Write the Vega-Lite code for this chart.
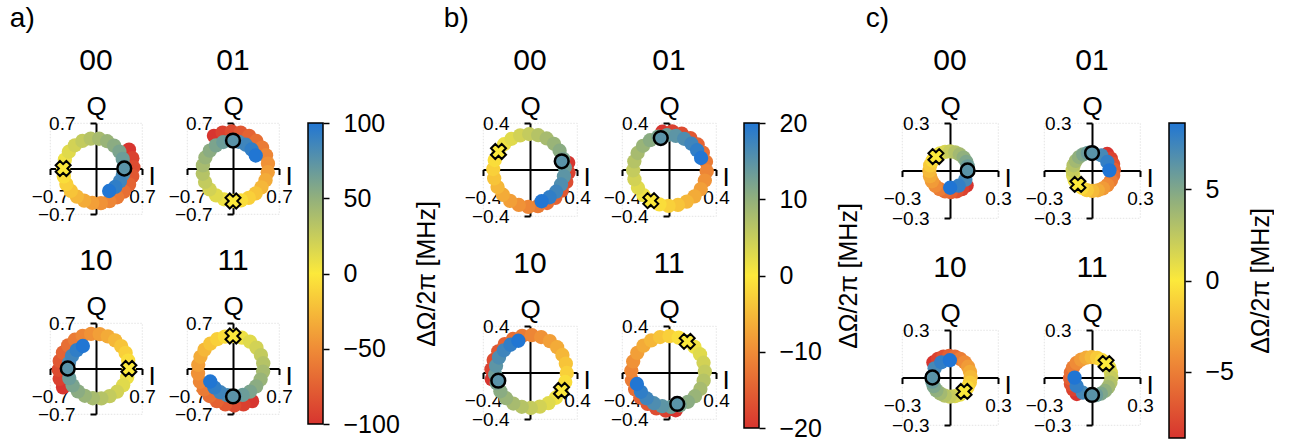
{
"$schema": "https://vega.github.io/schema/vega-lite/v6.json",
"padding": {"left": 9, "top": 4, "right": 0, "bottom": 0},
"config": {
 "font": "Liberation Sans",
 "view": {"stroke": "#dddddd", "strokeDash": [1.5, 1.5], "strokeWidth": 0.8},
 "axis": {"domainColor": "black", "domainWidth": 2, "tickColor": "black", "tickWidth": 2, "tickSize": 6, "labelColor": "black", "labelFontSize": 19, "labelFont": "Liberation Sans", "titleColor": "black", "titleFont": "Liberation Sans", "titleFontSize": 26, "titleFontWeight": "normal", "grid": false},
 "header": {"labelFont": "Liberation Sans", "labelColor": "black", "labelFontSize": 30},
 "title": {"font": "Liberation Sans", "color": "black", "fontWeight": "normal"}
},
"datasets": {
 "a": [
  {"p":"00","d":-100,"x":0.502,"y":0.29},{"p":"00","d":-93.3,"x":0.553,"y":0.159},{"p":"00","d":-86.7,"x":0.569,"y":0.02},{"p":"00","d":-80,"x":0.552,"y":-0.117},{"p":"00","d":-73.3,"x":0.503,"y":-0.245},{"p":"00","d":-66.7,"x":0.424,"y":-0.356},{"p":"00","d":-60,"x":0.322,"y":-0.443},{"p":"00","d":-53.3,"x":0.204,"y":-0.503},{"p":"00","d":-46.7,"x":0.075,"y":-0.532},{"p":"00","d":-40,"x":-0.056,"y":-0.529},{"p":"00","d":-33.3,"x":-0.18,"y":-0.495},{"p":"00","d":-26.7,"x":-0.291,"y":-0.432},{"p":"00","d":-20,"x":-0.383,"y":-0.345},{"p":"00","d":-13.3,"x":-0.451,"y":-0.24},{"p":"00","d":-6.7,"x":-0.49,"y":-0.122},{"p":"00","d":0,"x":-0.5,"y":0},{"p":"00","d":6.7,"x":-0.474,"y":0.136},{"p":"00","d":13.3,"x":-0.413,"y":0.258},{"p":"00","d":20,"x":-0.321,"y":0.357},{"p":"00","d":26.7,"x":-0.207,"y":0.425},{"p":"00","d":33.3,"x":-0.081,"y":0.46},{"p":"00","d":40,"x":0.048,"y":0.458},{"p":"00","d":46.7,"x":0.17,"y":0.42},{"p":"00","d":53.3,"x":0.275,"y":0.352},{"p":"00","d":60,"x":0.356,"y":0.259},{"p":"00","d":66.7,"x":0.407,"y":0.148},{"p":"00","d":73.3,"x":0.426,"y":0.03},{"p":"00","d":80,"x":0.411,"y":-0.087},{"p":"00","d":86.7,"x":0.365,"y":-0.194},{"p":"00","d":93.3,"x":0.293,"y":-0.283},{"p":"00","d":100,"x":0.2,"y":-0.346},
  {"p":"01","d":-100,"x":-0.29,"y":0.502},{"p":"01","d":-93.3,"x":-0.159,"y":0.553},{"p":"01","d":-86.7,"x":-0.02,"y":0.569},{"p":"01","d":-80,"x":0.117,"y":0.552},{"p":"01","d":-73.3,"x":0.245,"y":0.503},{"p":"01","d":-66.7,"x":0.356,"y":0.424},{"p":"01","d":-60,"x":0.443,"y":0.322},{"p":"01","d":-53.3,"x":0.503,"y":0.204},{"p":"01","d":-46.7,"x":0.532,"y":0.075},{"p":"01","d":-40,"x":0.529,"y":-0.056},{"p":"01","d":-33.3,"x":0.495,"y":-0.18},{"p":"01","d":-26.7,"x":0.432,"y":-0.291},{"p":"01","d":-20,"x":0.345,"y":-0.383},{"p":"01","d":-13.3,"x":0.24,"y":-0.451},{"p":"01","d":-6.7,"x":0.122,"y":-0.49},{"p":"01","d":0,"x":0,"y":-0.5},{"p":"01","d":6.7,"x":-0.136,"y":-0.474},{"p":"01","d":13.3,"x":-0.258,"y":-0.413},{"p":"01","d":20,"x":-0.357,"y":-0.321},{"p":"01","d":26.7,"x":-0.425,"y":-0.207},{"p":"01","d":33.3,"x":-0.46,"y":-0.081},{"p":"01","d":40,"x":-0.458,"y":0.048},{"p":"01","d":46.7,"x":-0.42,"y":0.17},{"p":"01","d":53.3,"x":-0.352,"y":0.275},{"p":"01","d":60,"x":-0.259,"y":0.356},{"p":"01","d":66.7,"x":-0.148,"y":0.407},{"p":"01","d":73.3,"x":-0.03,"y":0.426},{"p":"01","d":80,"x":0.087,"y":0.411},{"p":"01","d":86.7,"x":0.194,"y":0.365},{"p":"01","d":93.3,"x":0.283,"y":0.293},{"p":"01","d":100,"x":0.346,"y":0.2},
  {"p":"10","d":-100,"x":-0.502,"y":-0.29},{"p":"10","d":-93.3,"x":-0.553,"y":-0.159},{"p":"10","d":-86.7,"x":-0.569,"y":-0.02},{"p":"10","d":-80,"x":-0.552,"y":0.117},{"p":"10","d":-73.3,"x":-0.503,"y":0.245},{"p":"10","d":-66.7,"x":-0.424,"y":0.356},{"p":"10","d":-60,"x":-0.322,"y":0.443},{"p":"10","d":-53.3,"x":-0.204,"y":0.503},{"p":"10","d":-46.7,"x":-0.075,"y":0.532},{"p":"10","d":-40,"x":0.056,"y":0.529},{"p":"10","d":-33.3,"x":0.18,"y":0.495},{"p":"10","d":-26.7,"x":0.291,"y":0.432},{"p":"10","d":-20,"x":0.383,"y":0.345},{"p":"10","d":-13.3,"x":0.451,"y":0.24},{"p":"10","d":-6.7,"x":0.49,"y":0.122},{"p":"10","d":0,"x":0.5,"y":0},{"p":"10","d":6.7,"x":0.474,"y":-0.136},{"p":"10","d":13.3,"x":0.413,"y":-0.258},{"p":"10","d":20,"x":0.321,"y":-0.357},{"p":"10","d":26.7,"x":0.207,"y":-0.425},{"p":"10","d":33.3,"x":0.081,"y":-0.46},{"p":"10","d":40,"x":-0.048,"y":-0.458},{"p":"10","d":46.7,"x":-0.17,"y":-0.42},{"p":"10","d":53.3,"x":-0.275,"y":-0.352},{"p":"10","d":60,"x":-0.356,"y":-0.259},{"p":"10","d":66.7,"x":-0.407,"y":-0.148},{"p":"10","d":73.3,"x":-0.426,"y":-0.03},{"p":"10","d":80,"x":-0.411,"y":0.087},{"p":"10","d":86.7,"x":-0.365,"y":0.194},{"p":"10","d":93.3,"x":-0.293,"y":0.283},{"p":"10","d":100,"x":-0.2,"y":0.346},
  {"p":"11","d":-100,"x":0.29,"y":-0.502},{"p":"11","d":-93.3,"x":0.159,"y":-0.553},{"p":"11","d":-86.7,"x":0.02,"y":-0.569},{"p":"11","d":-80,"x":-0.117,"y":-0.552},{"p":"11","d":-73.3,"x":-0.245,"y":-0.503},{"p":"11","d":-66.7,"x":-0.356,"y":-0.424},{"p":"11","d":-60,"x":-0.443,"y":-0.322},{"p":"11","d":-53.3,"x":-0.503,"y":-0.204},{"p":"11","d":-46.7,"x":-0.532,"y":-0.075},{"p":"11","d":-40,"x":-0.529,"y":0.056},{"p":"11","d":-33.3,"x":-0.495,"y":0.18},{"p":"11","d":-26.7,"x":-0.432,"y":0.291},{"p":"11","d":-20,"x":-0.345,"y":0.383},{"p":"11","d":-13.3,"x":-0.24,"y":0.451},{"p":"11","d":-6.7,"x":-0.122,"y":0.49},{"p":"11","d":0,"x":0,"y":0.5},{"p":"11","d":6.7,"x":0.136,"y":0.474},{"p":"11","d":13.3,"x":0.258,"y":0.413},{"p":"11","d":20,"x":0.357,"y":0.321},{"p":"11","d":26.7,"x":0.425,"y":0.207},{"p":"11","d":33.3,"x":0.46,"y":0.081},{"p":"11","d":40,"x":0.458,"y":-0.048},{"p":"11","d":46.7,"x":0.42,"y":-0.17},{"p":"11","d":53.3,"x":0.352,"y":-0.275},{"p":"11","d":60,"x":0.259,"y":-0.356},{"p":"11","d":66.7,"x":0.148,"y":-0.407},{"p":"11","d":73.3,"x":0.03,"y":-0.426},{"p":"11","d":80,"x":-0.087,"y":-0.411},{"p":"11","d":86.7,"x":-0.194,"y":-0.365},{"p":"11","d":93.3,"x":-0.283,"y":-0.293},{"p":"11","d":100,"x":-0.346,"y":-0.2},
  {"p":"00","k":"o","d":75,"x":0.43,"y":0},{"p":"00","k":"x","d":0,"x":-0.5,"y":0},
  {"p":"01","k":"o","d":75,"x":0,"y":0.43},{"p":"01","k":"x","d":0,"x":0,"y":-0.5},
  {"p":"10","k":"o","d":75,"x":-0.43,"y":0},{"p":"10","k":"x","d":0,"x":0.5,"y":0},
  {"p":"11","k":"o","d":75,"x":0,"y":-0.43},{"p":"11","k":"x","d":0,"x":0,"y":0.5}
 ],
 "b": [
  {"p":"00","d":-20,"x":0.325,"y":0.057},{"p":"00","d":-18.67,"x":0.328,"y":-0.027},{"p":"00","d":-17.33,"x":0.309,"y":-0.108},{"p":"00","d":-16,"x":0.27,"y":-0.182},{"p":"00","d":-14.67,"x":0.215,"y":-0.244},{"p":"00","d":-13.33,"x":0.145,"y":-0.288},{"p":"00","d":-12,"x":0.067,"y":-0.315},{"p":"00","d":-10.67,"x":-0.015,"y":-0.321},{"p":"00","d":-9.33,"x":-0.095,"y":-0.305},{"p":"00","d":-8,"x":-0.169,"y":-0.27},{"p":"00","d":-6.67,"x":-0.231,"y":-0.217},{"p":"00","d":-5.33,"x":-0.276,"y":-0.151},{"p":"00","d":-4,"x":-0.305,"y":-0.076},{"p":"00","d":-2.67,"x":-0.313,"y":0.004},{"p":"00","d":-1.33,"x":-0.3,"y":0.082},{"p":"00","d":0,"x":-0.268,"y":0.155},{"p":"00","d":1.33,"x":-0.22,"y":0.217},{"p":"00","d":2.67,"x":-0.157,"y":0.264},{"p":"00","d":4,"x":-0.084,"y":0.294},{"p":"00","d":5.33,"x":-0.007,"y":0.305},{"p":"00","d":6.67,"x":0.07,"y":0.295},{"p":"00","d":8,"x":0.142,"y":0.267},{"p":"00","d":9.33,"x":0.204,"y":0.221},{"p":"00","d":10.67,"x":0.252,"y":0.161},{"p":"00","d":12,"x":0.283,"y":0.092},{"p":"00","d":13.33,"x":0.296,"y":0.017},{"p":"00","d":14.67,"x":0.289,"y":-0.058},{"p":"00","d":16,"x":0.264,"y":-0.129},{"p":"00","d":17.33,"x":0.222,"y":-0.191},{"p":"00","d":18.67,"x":0.166,"y":-0.239},{"p":"00","d":20,"x":0.099,"y":-0.273},
  {"p":"01","d":-20,"x":-0.057,"y":0.325},{"p":"01","d":-18.67,"x":0.027,"y":0.328},{"p":"01","d":-17.33,"x":0.108,"y":0.309},{"p":"01","d":-16,"x":0.182,"y":0.27},{"p":"01","d":-14.67,"x":0.244,"y":0.215},{"p":"01","d":-13.33,"x":0.288,"y":0.145},{"p":"01","d":-12,"x":0.315,"y":0.067},{"p":"01","d":-10.67,"x":0.321,"y":-0.015},{"p":"01","d":-9.33,"x":0.305,"y":-0.095},{"p":"01","d":-8,"x":0.27,"y":-0.169},{"p":"01","d":-6.67,"x":0.217,"y":-0.231},{"p":"01","d":-5.33,"x":0.151,"y":-0.276},{"p":"01","d":-4,"x":0.076,"y":-0.305},{"p":"01","d":-2.67,"x":-0.004,"y":-0.313},{"p":"01","d":-1.33,"x":-0.082,"y":-0.3},{"p":"01","d":0,"x":-0.155,"y":-0.268},{"p":"01","d":1.33,"x":-0.217,"y":-0.22},{"p":"01","d":2.67,"x":-0.264,"y":-0.157},{"p":"01","d":4,"x":-0.294,"y":-0.084},{"p":"01","d":5.33,"x":-0.305,"y":-0.007},{"p":"01","d":6.67,"x":-0.295,"y":0.07},{"p":"01","d":8,"x":-0.267,"y":0.142},{"p":"01","d":9.33,"x":-0.221,"y":0.204},{"p":"01","d":10.67,"x":-0.161,"y":0.252},{"p":"01","d":12,"x":-0.092,"y":0.283},{"p":"01","d":13.33,"x":-0.017,"y":0.296},{"p":"01","d":14.67,"x":0.058,"y":0.289},{"p":"01","d":16,"x":0.129,"y":0.264},{"p":"01","d":17.33,"x":0.191,"y":0.222},{"p":"01","d":18.67,"x":0.239,"y":0.166},{"p":"01","d":20,"x":0.273,"y":0.099},
  {"p":"10","d":-20,"x":-0.325,"y":-0.057},{"p":"10","d":-18.67,"x":-0.328,"y":0.027},{"p":"10","d":-17.33,"x":-0.309,"y":0.108},{"p":"10","d":-16,"x":-0.27,"y":0.182},{"p":"10","d":-14.67,"x":-0.215,"y":0.244},{"p":"10","d":-13.33,"x":-0.145,"y":0.288},{"p":"10","d":-12,"x":-0.067,"y":0.315},{"p":"10","d":-10.67,"x":0.015,"y":0.321},{"p":"10","d":-9.33,"x":0.095,"y":0.305},{"p":"10","d":-8,"x":0.169,"y":0.27},{"p":"10","d":-6.67,"x":0.231,"y":0.217},{"p":"10","d":-5.33,"x":0.276,"y":0.151},{"p":"10","d":-4,"x":0.305,"y":0.076},{"p":"10","d":-2.67,"x":0.313,"y":-0.004},{"p":"10","d":-1.33,"x":0.3,"y":-0.082},{"p":"10","d":0,"x":0.268,"y":-0.155},{"p":"10","d":1.33,"x":0.22,"y":-0.217},{"p":"10","d":2.67,"x":0.157,"y":-0.264},{"p":"10","d":4,"x":0.084,"y":-0.294},{"p":"10","d":5.33,"x":0.007,"y":-0.305},{"p":"10","d":6.67,"x":-0.07,"y":-0.295},{"p":"10","d":8,"x":-0.142,"y":-0.267},{"p":"10","d":9.33,"x":-0.204,"y":-0.221},{"p":"10","d":10.67,"x":-0.252,"y":-0.161},{"p":"10","d":12,"x":-0.283,"y":-0.092},{"p":"10","d":13.33,"x":-0.296,"y":-0.017},{"p":"10","d":14.67,"x":-0.289,"y":0.058},{"p":"10","d":16,"x":-0.264,"y":0.129},{"p":"10","d":17.33,"x":-0.222,"y":0.191},{"p":"10","d":18.67,"x":-0.166,"y":0.239},{"p":"10","d":20,"x":-0.099,"y":0.273},
  {"p":"11","d":-20,"x":0.057,"y":-0.325},{"p":"11","d":-18.67,"x":-0.027,"y":-0.328},{"p":"11","d":-17.33,"x":-0.108,"y":-0.309},{"p":"11","d":-16,"x":-0.182,"y":-0.27},{"p":"11","d":-14.67,"x":-0.244,"y":-0.215},{"p":"11","d":-13.33,"x":-0.288,"y":-0.145},{"p":"11","d":-12,"x":-0.315,"y":-0.067},{"p":"11","d":-10.67,"x":-0.321,"y":0.015},{"p":"11","d":-9.33,"x":-0.305,"y":0.095},{"p":"11","d":-8,"x":-0.27,"y":0.169},{"p":"11","d":-6.67,"x":-0.217,"y":0.231},{"p":"11","d":-5.33,"x":-0.151,"y":0.276},{"p":"11","d":-4,"x":-0.076,"y":0.305},{"p":"11","d":-2.67,"x":0.004,"y":0.313},{"p":"11","d":-1.33,"x":0.082,"y":0.3},{"p":"11","d":0,"x":0.155,"y":0.268},{"p":"11","d":1.33,"x":0.217,"y":0.22},{"p":"11","d":2.67,"x":0.264,"y":0.157},{"p":"11","d":4,"x":0.294,"y":0.084},{"p":"11","d":5.33,"x":0.305,"y":0.007},{"p":"11","d":6.67,"x":0.295,"y":-0.07},{"p":"11","d":8,"x":0.267,"y":-0.142},{"p":"11","d":9.33,"x":0.221,"y":-0.204},{"p":"11","d":10.67,"x":0.161,"y":-0.252},{"p":"11","d":12,"x":0.092,"y":-0.283},{"p":"11","d":13.33,"x":0.017,"y":-0.296},{"p":"11","d":14.67,"x":-0.058,"y":-0.289},{"p":"11","d":16,"x":-0.129,"y":-0.264},{"p":"11","d":17.33,"x":-0.191,"y":-0.222},{"p":"11","d":18.67,"x":-0.239,"y":-0.166},{"p":"11","d":20,"x":-0.273,"y":-0.099},
  {"p":"00","k":"o","d":15,"x":0.27,"y":0.07},{"p":"00","k":"x","d":0,"x":-0.268,"y":0.155},
  {"p":"01","k":"o","d":15,"x":-0.07,"y":0.27},{"p":"01","k":"x","d":0,"x":-0.155,"y":-0.268},
  {"p":"10","k":"o","d":15,"x":-0.27,"y":-0.07},{"p":"10","k":"x","d":0,"x":0.268,"y":-0.155},
  {"p":"11","k":"o","d":15,"x":0.07,"y":-0.27},{"p":"11","k":"x","d":0,"x":0.155,"y":0.268}
 ],
 "c": [
  {"p":"00","d":-8.7,"x":0.104,"y":-0.095},{"p":"00","d":-7.98,"x":0.075,"y":-0.118},{"p":"00","d":-7.25,"x":0.041,"y":-0.132},{"p":"00","d":-6.53,"x":0.005,"y":-0.137},{"p":"00","d":-5.8,"x":-0.031,"y":-0.132},{"p":"00","d":-5.08,"x":-0.064,"y":-0.118},{"p":"00","d":-4.35,"x":-0.092,"y":-0.096},{"p":"00","d":-3.63,"x":-0.113,"y":-0.068},{"p":"00","d":-2.9,"x":-0.125,"y":-0.036},{"p":"00","d":-2.18,"x":-0.129,"y":-0.002},{"p":"00","d":-1.45,"x":-0.124,"y":0.032},{"p":"00","d":-0.73,"x":-0.109,"y":0.063},{"p":"00","d":0,"x":-0.088,"y":0.088},{"p":"00","d":0.73,"x":-0.062,"y":0.108},{"p":"00","d":1.45,"x":-0.031,"y":0.118},{"p":"00","d":2.18,"x":0.001,"y":0.121},{"p":"00","d":2.9,"x":0.033,"y":0.115},{"p":"00","d":3.63,"x":0.061,"y":0.101},{"p":"00","d":4.35,"x":0.085,"y":0.081},{"p":"00","d":5.08,"x":0.102,"y":0.055},{"p":"00","d":5.8,"x":0.111,"y":0.026},{"p":"00","d":6.53,"x":0.113,"y":-0.004},{"p":"00","d":7.25,"x":0.096,"y":-0.058},{"p":"00","d":7.98,"x":0.054,"y":-0.096},{"p":"00","d":8.7,"x":0.001,"y":-0.109},
  {"p":"01","d":-8.7,"x":0.095,"y":0.104},{"p":"01","d":-7.98,"x":0.118,"y":0.075},{"p":"01","d":-7.25,"x":0.132,"y":0.041},{"p":"01","d":-6.53,"x":0.137,"y":0.005},{"p":"01","d":-5.8,"x":0.132,"y":-0.031},{"p":"01","d":-5.08,"x":0.118,"y":-0.064},{"p":"01","d":-4.35,"x":0.096,"y":-0.092},{"p":"01","d":-3.63,"x":0.068,"y":-0.113},{"p":"01","d":-2.9,"x":0.036,"y":-0.125},{"p":"01","d":-2.18,"x":0.002,"y":-0.129},{"p":"01","d":-1.45,"x":-0.032,"y":-0.124},{"p":"01","d":-0.73,"x":-0.063,"y":-0.109},{"p":"01","d":0,"x":-0.088,"y":-0.088},{"p":"01","d":0.73,"x":-0.108,"y":-0.062},{"p":"01","d":1.45,"x":-0.118,"y":-0.031},{"p":"01","d":2.18,"x":-0.121,"y":0.001},{"p":"01","d":2.9,"x":-0.115,"y":0.033},{"p":"01","d":3.63,"x":-0.101,"y":0.061},{"p":"01","d":4.35,"x":-0.081,"y":0.085},{"p":"01","d":5.08,"x":-0.055,"y":0.102},{"p":"01","d":5.8,"x":-0.026,"y":0.111},{"p":"01","d":6.53,"x":0.004,"y":0.113},{"p":"01","d":7.25,"x":0.058,"y":0.096},{"p":"01","d":7.98,"x":0.096,"y":0.054},{"p":"01","d":8.7,"x":0.109,"y":0.001},
  {"p":"10","d":-8.7,"x":-0.104,"y":0.095},{"p":"10","d":-7.98,"x":-0.075,"y":0.118},{"p":"10","d":-7.25,"x":-0.041,"y":0.132},{"p":"10","d":-6.53,"x":-0.005,"y":0.137},{"p":"10","d":-5.8,"x":0.031,"y":0.132},{"p":"10","d":-5.08,"x":0.064,"y":0.118},{"p":"10","d":-4.35,"x":0.092,"y":0.096},{"p":"10","d":-3.63,"x":0.113,"y":0.068},{"p":"10","d":-2.9,"x":0.125,"y":0.036},{"p":"10","d":-2.18,"x":0.129,"y":0.002},{"p":"10","d":-1.45,"x":0.124,"y":-0.032},{"p":"10","d":-0.73,"x":0.109,"y":-0.063},{"p":"10","d":0,"x":0.088,"y":-0.088},{"p":"10","d":0.73,"x":0.062,"y":-0.108},{"p":"10","d":1.45,"x":0.031,"y":-0.118},{"p":"10","d":2.18,"x":-0.001,"y":-0.121},{"p":"10","d":2.9,"x":-0.033,"y":-0.115},{"p":"10","d":3.63,"x":-0.061,"y":-0.101},{"p":"10","d":4.35,"x":-0.085,"y":-0.081},{"p":"10","d":5.08,"x":-0.102,"y":-0.055},{"p":"10","d":5.8,"x":-0.111,"y":-0.026},{"p":"10","d":6.53,"x":-0.113,"y":0.004},{"p":"10","d":7.25,"x":-0.096,"y":0.058},{"p":"10","d":7.98,"x":-0.054,"y":0.096},{"p":"10","d":8.7,"x":-0.001,"y":0.109},
  {"p":"11","d":-8.7,"x":-0.095,"y":-0.104},{"p":"11","d":-7.98,"x":-0.118,"y":-0.075},{"p":"11","d":-7.25,"x":-0.132,"y":-0.041},{"p":"11","d":-6.53,"x":-0.137,"y":-0.005},{"p":"11","d":-5.8,"x":-0.132,"y":0.031},{"p":"11","d":-5.08,"x":-0.118,"y":0.064},{"p":"11","d":-4.35,"x":-0.096,"y":0.092},{"p":"11","d":-3.63,"x":-0.068,"y":0.113},{"p":"11","d":-2.9,"x":-0.036,"y":0.125},{"p":"11","d":-2.18,"x":-0.002,"y":0.129},{"p":"11","d":-1.45,"x":0.032,"y":0.124},{"p":"11","d":-0.73,"x":0.063,"y":0.109},{"p":"11","d":0,"x":0.088,"y":0.088},{"p":"11","d":0.73,"x":0.108,"y":0.062},{"p":"11","d":1.45,"x":0.118,"y":0.031},{"p":"11","d":2.18,"x":0.121,"y":-0.001},{"p":"11","d":2.9,"x":0.115,"y":-0.033},{"p":"11","d":3.63,"x":0.101,"y":-0.061},{"p":"11","d":4.35,"x":0.081,"y":-0.085},{"p":"11","d":5.08,"x":0.055,"y":-0.102},{"p":"11","d":5.8,"x":0.026,"y":-0.111},{"p":"11","d":6.53,"x":-0.004,"y":-0.113},{"p":"11","d":7.25,"x":-0.058,"y":-0.096},{"p":"11","d":7.98,"x":-0.096,"y":-0.054},{"p":"11","d":8.7,"x":-0.109,"y":-0.001},
  {"p":"00","k":"o","d":6.5,"x":0.11,"y":0},{"p":"00","k":"x","d":0,"x":-0.088,"y":0.088},
  {"p":"01","k":"o","d":6.5,"x":0,"y":0.11},{"p":"01","k":"x","d":0,"x":-0.088,"y":-0.088},
  {"p":"10","k":"o","d":6.5,"x":-0.11,"y":0},{"p":"10","k":"x","d":0,"x":0.088,"y":-0.088},
  {"p":"11","k":"o","d":6.5,"x":0,"y":-0.11},{"p":"11","k":"x","d":0,"x":0.088,"y":0.088}
 ]
},
"spacing": 3,
"resolve": {"scale": {"color": "independent"}},
"hconcat": [
 {
  "title": {"text": "a)", "anchor": "start", "fontSize": 28, "dx": -21, "offset": 13},
  "spacing": 14,
  "hconcat": [
   {
    "data": {"name": "a"},
    "facet": {"field": "p", "type": "nominal", "header": {"title": null, "labelFontSize": 30, "labelPadding": 17}},
    "columns": 2,
    "spacing": {"column": 45, "row": 109},
    "bounds": "flush",
    "resolve": {"axis": {"x": "independent", "y": "independent"}},
    "spec": {
     "width": 92, "height": 91,
     "encoding": {
      "x": {"field": "x", "type": "quantitative", "scale": {"domain": [-0.7, 0.7], "nice": false, "zero": false}, "axis": {"title": "I", "values": [-0.7, 0.7], "format": ".1f", "offset": -45.5, "labelFlush": false, "labelFontSize": 19, "labelPadding": 13, "titleX": 98, "titleY": 16, "titleAngle": 0, "titleAlign": "left", "titleBaseline": "alphabetic"}},
      "y": {"field": "y", "type": "quantitative", "scale": {"domain": [-0.7, 0.7], "nice": false, "zero": false}, "axis": {"title": "Q", "values": [-0.7, 0.7], "format": ".1f", "offset": -46, "labelFontSize": 19, "labelPadding": 15, "titleX": 0, "titleY": -9, "titleAngle": 0, "titleAlign": "center", "titleBaseline": "alphabetic"}},
      "color": {"field": "d", "type": "quantitative", "scale": {"domain": [-100, -50, 0, 50, 100], "range": ["#d7352f", "#ef8c37", "#fce93b", "#92b07c", "#2176d3"], "interpolate": "rgb"}, "legend": null}
     },
     "layer": [
      {"transform": [{"filter": "!datum.k"}], "mark": {"type": "circle", "size": 205, "opacity": 1}},
      {"transform": [{"filter": "datum.k === 'o'"}], "mark": {"type": "point", "shape": "circle", "filled": true, "size": 190, "opacity": 1, "stroke": "black", "strokeWidth": 2.5}},
      {"transform": [{"filter": "datum.k === 'x'"}], "mark": {"type": "point", "shape": "cross", "angle": 45, "filled": true, "size": 230, "opacity": 1, "stroke": "black", "strokeWidth": 2}}
     ]
    }
   },
   {
    "data": {"values": [{"lo": -100, "hi": 100}]},
    "width": 15, "height": 301,
    "title": {"text": " ", "fontSize": 10, "offset": 42},
    "view": {"stroke": null},
    "mark": {"type": "rect", "stroke": "black", "strokeWidth": 1.5, "color": {"gradient": "linear", "x1": 0, "y1": 1, "x2": 0, "y2": 0, "stops": [{"offset": 0, "color": "#d7352f"}, {"offset": 0.25, "color": "#ef8c37"}, {"offset": 0.5, "color": "#fce93b"}, {"offset": 0.75, "color": "#92b07c"}, {"offset": 1, "color": "#2176d3"}]}},
    "encoding": {
     "x": {"datum": 0, "type": "quantitative", "scale": {"domain": [0, 1]}, "axis": null},
     "x2": {"datum": 1},
     "y": {"field": "lo", "type": "quantitative", "scale": {"domain": [-100, 100], "nice": false, "zero": false}, "axis": {"orient": "right", "values": [-100, -50, 0, 50, 100], "format": "d", "domain": false, "tickSize": 6, "tickWidth": 1.5, "labelFontSize": 25, "labelPadding": 14, "title": "ΔΩ/2π [MHz]", "titleFontSize": 25, "titleAngle": 270, "titleBaseline": "top", "titlePadding": 15}},
     "y2": {"field": "hi"}
    }
   }
  ]
 },
 {
  "title": {"text": "b)", "anchor": "start", "fontSize": 28, "dx": -20, "offset": 13},
  "spacing": 13,
  "hconcat": [
   {
    "data": {"name": "b"},
    "facet": {"field": "p", "type": "nominal", "header": {"title": null, "labelFontSize": 30, "labelPadding": 17}},
    "columns": 2,
    "spacing": {"column": 45, "row": 110},
    "bounds": "flush",
    "resolve": {"axis": {"x": "independent", "y": "independent"}},
    "spec": {
     "width": 94, "height": 93,
     "encoding": {
      "x": {"field": "x", "type": "quantitative", "scale": {"domain": [-0.4, 0.4], "nice": false, "zero": false}, "axis": {"title": "I", "values": [-0.4, 0.4], "format": ".1f", "offset": -46.5, "labelFlush": false, "labelFontSize": 19, "labelPadding": 13, "titleX": 100, "titleY": 16, "titleAngle": 0, "titleAlign": "left", "titleBaseline": "alphabetic"}},
      "y": {"field": "y", "type": "quantitative", "scale": {"domain": [-0.4, 0.4], "nice": false, "zero": false}, "axis": {"title": "Q", "values": [-0.4, 0.4], "format": ".1f", "offset": -47, "labelFontSize": 19, "labelPadding": 15, "titleX": 0, "titleY": -9, "titleAngle": 0, "titleAlign": "center", "titleBaseline": "alphabetic"}},
      "color": {"field": "d", "type": "quantitative", "scale": {"domain": [-20, -10, 0, 10, 20], "range": ["#d7352f", "#ef8c37", "#fce93b", "#92b07c", "#2176d3"], "interpolate": "rgb"}, "legend": null}
     },
     "layer": [
      {"transform": [{"filter": "!datum.k"}], "mark": {"type": "circle", "size": 205, "opacity": 1}},
      {"transform": [{"filter": "datum.k === 'o'"}], "mark": {"type": "point", "shape": "circle", "filled": true, "size": 190, "opacity": 1, "stroke": "black", "strokeWidth": 2.5}},
      {"transform": [{"filter": "datum.k === 'x'"}], "mark": {"type": "point", "shape": "cross", "angle": 45, "filled": true, "size": 230, "opacity": 1, "stroke": "black", "strokeWidth": 2}}
     ]
    }
   },
   {
    "data": {"values": [{"lo": -20, "hi": 20}]},
    "width": 15, "height": 305,
    "title": {"text": " ", "fontSize": 10, "offset": 42},
    "view": {"stroke": null},
    "mark": {"type": "rect", "stroke": "black", "strokeWidth": 1.5, "color": {"gradient": "linear", "x1": 0, "y1": 1, "x2": 0, "y2": 0, "stops": [{"offset": 0, "color": "#d7352f"}, {"offset": 0.25, "color": "#ef8c37"}, {"offset": 0.5, "color": "#fce93b"}, {"offset": 0.75, "color": "#92b07c"}, {"offset": 1, "color": "#2176d3"}]}},
    "encoding": {
     "x": {"datum": 0, "type": "quantitative", "scale": {"domain": [0, 1]}, "axis": null},
     "x2": {"datum": 1},
     "y": {"field": "lo", "type": "quantitative", "scale": {"domain": [-20, 20], "nice": false, "zero": false}, "axis": {"orient": "right", "values": [-20, -10, 0, 10, 20], "format": "d", "domain": false, "tickSize": 6, "tickWidth": 1.5, "labelFontSize": 25, "labelPadding": 14, "title": "ΔΩ/2π [MHz]", "titleFontSize": 25, "titleAngle": 270, "titleBaseline": "top", "titlePadding": 15}},
     "y2": {"field": "hi"}
    }
   }
  ]
 },
 {
  "title": {"text": "c)", "anchor": "start", "fontSize": 28, "dx": -17, "offset": 13},
  "spacing": 14,
  "hconcat": [
   {
    "data": {"name": "c"},
    "facet": {"field": "p", "type": "nominal", "header": {"title": null, "labelFontSize": 30, "labelPadding": 17}},
    "columns": 2,
    "spacing": {"column": 46, "row": 112},
    "bounds": "flush",
    "resolve": {"axis": {"x": "independent", "y": "independent"}},
    "spec": {
     "width": 96, "height": 95,
     "encoding": {
      "x": {"field": "x", "type": "quantitative", "scale": {"domain": [-0.3, 0.3], "nice": false, "zero": false}, "axis": {"title": "I", "values": [-0.3, 0.3], "format": ".1f", "offset": -47.5, "labelFlush": false, "labelFontSize": 19, "labelPadding": 13, "titleX": 102, "titleY": 16, "titleAngle": 0, "titleAlign": "left", "titleBaseline": "alphabetic"}},
      "y": {"field": "y", "type": "quantitative", "scale": {"domain": [-0.3, 0.3], "nice": false, "zero": false}, "axis": {"title": "Q", "values": [-0.3, 0.3], "format": ".1f", "offset": -48, "labelFontSize": 19, "labelPadding": 15, "titleX": 0, "titleY": -9, "titleAngle": 0, "titleAlign": "center", "titleBaseline": "alphabetic"}},
      "color": {"field": "d", "type": "quantitative", "scale": {"domain": [-8.65, -4.325, 0, 4.325, 8.65], "range": ["#d7352f", "#ef8c37", "#fce93b", "#92b07c", "#2176d3"], "interpolate": "rgb"}, "legend": null}
     },
     "layer": [
      {"transform": [{"filter": "!datum.k"}], "mark": {"type": "circle", "size": 205, "opacity": 1}},
      {"transform": [{"filter": "datum.k === 'o'"}], "mark": {"type": "point", "shape": "circle", "filled": true, "size": 190, "opacity": 1, "stroke": "black", "strokeWidth": 2.5}},
      {"transform": [{"filter": "datum.k === 'x'"}], "mark": {"type": "point", "shape": "cross", "angle": 45, "filled": true, "size": 230, "opacity": 1, "stroke": "black", "strokeWidth": 2}}
     ]
    }
   },
   {
    "data": {"values": [{"lo": -8.65, "hi": 8.65}]},
    "width": 16, "height": 315,
    "title": {"text": " ", "fontSize": 10, "offset": 42},
    "view": {"stroke": null},
    "mark": {"type": "rect", "stroke": "black", "strokeWidth": 1.5, "color": {"gradient": "linear", "x1": 0, "y1": 1, "x2": 0, "y2": 0, "stops": [{"offset": 0, "color": "#d7352f"}, {"offset": 0.25, "color": "#ef8c37"}, {"offset": 0.5, "color": "#fce93b"}, {"offset": 0.75, "color": "#92b07c"}, {"offset": 1, "color": "#2176d3"}]}},
    "encoding": {
     "x": {"datum": 0, "type": "quantitative", "scale": {"domain": [0, 1]}, "axis": null},
     "x2": {"datum": 1},
     "y": {"field": "lo", "type": "quantitative", "scale": {"domain": [-8.65, 8.65], "nice": false, "zero": false}, "axis": {"orient": "right", "values": [-5, 0, 5], "format": "d", "domain": false, "tickSize": 6, "tickWidth": 1.5, "labelFontSize": 25, "labelPadding": 14, "title": "ΔΩ/2π [MHz]", "titleFontSize": 25, "titleAngle": 270, "titleBaseline": "top", "titlePadding": 15}},
     "y2": {"field": "hi"}
    }
   }
  ]
 }
]
}
